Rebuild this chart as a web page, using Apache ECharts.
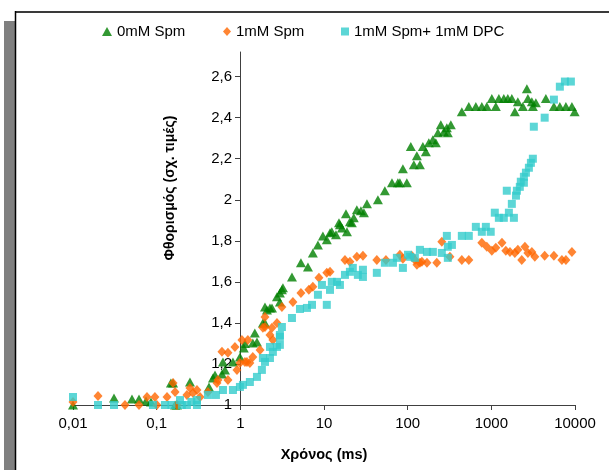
<!DOCTYPE html>
<html>
<head>
<meta charset="utf-8">
<script src="https://cdn.jsdelivr.net/npm/echarts@6/dist/echarts.min.js"></script>
<style>
html,body{margin:0;padding:0;background:#fff;}
#c{width:609px;height:470px;}
</style>
</head>
<body>
<div id="c"></div>
<script>
// ---- data (time in ms, relative fluorescence) ----
var seriesNames = ['0mM Spm', '1mM Spm', '1mM Spm+ 1mM DPC'];
var xTicks = [0.01, 0.1, 1, 10, 100, 1000, 10000];
var yTicks = [1, 1.2, 1.4, 1.6, 1.8, 2, 2.2, 2.4, 2.6];

var spm0 = [
  [0.01,1.0],[0.0309,1.034],[0.0507,1.029],[0.0615,1.029],[0.0746,1.02],[0.0855,1.015],
  [0.148,1.107],[0.166,1.0],[0.157,1.107],[0.25,1.112],[0.175,1.0],[0.422,1.088],
  [0.471,1.132],[0.498,1.146],[0.603,1.151],[0.62,1.21],[0.655,1.171],[0.816,1.21],
  [0.989,1.234],[1.10,1.278],[1.135,1.30],[1.41,1.302],[1.49,1.351],[1.58,1.307],
  [1.86,1.40],[1.97,1.478],[1.97,1.40],[2.08,1.463],[2.26,1.473],[2.39,1.473],
  [2.74,1.527],[2.97,1.502],[2.97,1.546],[3.14,1.561],[3.23,1.571],
  [4.14,1.624],[5.30,1.693],[6.43,1.673],[7.36,1.741],[8.46,1.78],[9.70,1.824],
  [10.8,1.805],[11.8,1.839],[12.4,1.844],[13.9,1.829],[15.1,1.888],[15.5,1.878],
  [16.4,1.863],[18.3,1.932],[18.8,1.844],[20.4,1.893],[21.5,1.888],[22.7,1.912],
  [24.7,1.951],[27.6,1.946],[30.0,1.937],[32.6,1.98],[44.1,2.0],[53.4,2.044],
  [64.9,2.083],[76.4,2.083],[80.7,2.083],[87.7,2.151],[97.8,2.083],[109,2.259],
  [118.5,2.171],[128.8,2.215],[140,2.171],[152,2.259],[165,2.234],[179,2.278],
  [200,2.293],[217,2.278],[230,2.327],[249,2.366],[271,2.332],[294,2.351],[302,2.327],
  [328,2.366],[444,2.429],[538,2.454],[653,2.454],[770,2.454],[883,2.454],[1014,2.493],
  [1132,2.454],[1230,2.493],[1410,2.493],[1574,2.493],[1758,2.493],[1910,2.429],
  [2075,2.478],[2382,2.454],[2660,2.541],[2735,2.493],[3050,2.478],[3135,2.454],
  [3405,2.473],[4485,2.493],[5595,2.454],[6590,2.454],[7785,2.454],[9185,2.454],[9900,2.429]
];

var spm1 = [
  [0.01,1.015],[0.0199,1.044],[0.0418,1.0],[0.0615,1.0],[0.0766,1.039],[0.0953,1.039],
  [0.1006,1.0],[0.133,1.039],[0.157,1.107],[0.166,1.063],[0.175,1.0],[0.23,1.049],
  [0.25,1.083],[0.272,1.059],[0.303,1.073],[0.33,1.039],[0.41,1.063],[0.526,1.107],
  [0.54,1.122],[0.603,1.259],[0.711,1.122],[0.711,1.254],[0.862,1.283],[0.911,1.171],
  [0.989,1.205],[1.045,1.317],[1.135,1.21],[1.20,1.21],[1.23,1.317],[1.30,1.205],
  [1.41,1.234],[1.72,1.268],[1.86,1.376],[1.97,1.38],[1.97,1.429],[2.26,1.341],
  [2.39,1.376],[2.45,1.317],[2.74,1.40],[3.14,1.478],[4.25,1.502],[5.30,1.546],
  [6.59,1.561],[7.36,1.576],[8.70,1.62],[10.8,1.644],[11.8,1.649],[17.8,1.707],
  [20.4,1.698],[24.7,1.722],[29.2,1.727],[42.8,1.707],[55.0,1.707],[80.7,1.732],
  [87.7,1.712],[112,1.727],[122,1.707],[129,1.683],[140,1.693],[148,1.698],[170,1.693],
  [223,1.693],[256,1.795],[320,1.722],[444,1.707],[538,1.707],[770,1.79],[883,1.771],
  [1014,1.751],[1132,1.766],[1340,1.79],[1490,1.751],[1670,1.746],[1910,1.741],
  [2075,1.756],[2310,1.707],[2520,1.771],[2735,1.741],[3050,1.746],[3310,1.722],
  [4340,1.727],[5595,1.727],[6970,1.707],[7785,1.707],[9185,1.746]
];

var spmDpc = [
  [0.01,1.039],[0.0199,1.0],[0.0309,1.0],[0.0903,1.0],[0.1256,1.0],[0.15,1.0],
  [0.19,1.024],[0.2,1.0],[0.23,1.0],[0.26,1.015],[0.303,1.024],[0.303,1.0],
  [0.41,1.049],[0.511,1.049],[0.62,1.073],[0.816,1.073],[0.989,1.088],[1.074,1.098],
  [1.30,1.112],[1.58,1.137],[1.81,1.171],[1.86,1.229],[1.97,1.21],[2.26,1.229],
  [2.26,1.283],[2.45,1.259],[2.74,1.283],[2.97,1.293],[2.97,1.332],[2.97,1.341],
  [3.14,1.38],[4.14,1.424],[5.16,1.468],[6.25,1.473],[7.19,1.488],[8.46,1.537],
  [9.45,1.585],[10.8,1.488],[11.8,1.561],[12.4,1.60],[14.3,1.60],[15.5,1.585],
  [17.8,1.634],[20.4,1.649],[22.1,1.668],[25.4,1.634],[29.2,1.659],[29.2,1.624],
  [42.8,1.644],[53.4,1.693],[66.7,1.693],[74.3,1.717],[87.7,1.668],[101,1.732],
  [107,1.722],[122,1.717],[140,1.756],[170,1.746],[200,1.746],[256,1.741],
  [302,1.771],[302,1.717],[338,1.78],[294,1.824],[444,1.824],[538,1.824],[653,1.868],
  [770,1.844],[860,1.868],[983,1.844],[1100,1.937],[1230,1.912],[1410,1.912],
  [1530,2.044],[1620,1.937],[1758,1.98],[1860,1.912],[1970,2.02],[2020,2.044],
  [2190,2.063],[2250,2.088],[2450,2.083],[2450,2.112],[2590,2.132],[2810,2.156],
  [2970,2.18],[3135,2.20],[3220,2.356],[4340,2.40],[5595,2.488],[6590,2.551],
  [7570,2.576],[8930,2.576]
];

var colors = ['#008000', '#FF6600', '#33CCCC'];
var FONT = '"Liberation Sans", Arial, sans-serif';

function comma(v) {
  return String(Math.round(v * 1000) / 1000).replace('.', ',');
}

var chart = echarts.init(document.getElementById('c'), null, {renderer: 'canvas'});
chart.setOption({
  animation: false,
  backgroundColor: '#ffffff',
  textStyle: {fontFamily: FONT},
  grid: {left: 73, right: 34, top: 52, bottom: 65, containLabel: false},
  legend: [
    {left: 102, top: 24, itemWidth: 10, itemHeight: 9, padding: 0,
     textStyle: {fontSize: 15, color: '#000', fontFamily: FONT},
     data: [{name: seriesNames[0], icon: 'triangle'}]},
    {left: 223, top: 24, itemWidth: 8, itemHeight: 9, padding: 0,
     textStyle: {fontSize: 15, color: '#000', fontFamily: FONT},
     data: [{name: seriesNames[1], icon: 'diamond'}]},
    {left: 341, top: 24, itemWidth: 8, itemHeight: 8, padding: 0,
     textStyle: {fontSize: 15, color: '#000', fontFamily: FONT},
     data: [{name: seriesNames[2], icon: 'rect'}]}
  ],
  xAxis: {
    type: 'log', logBase: 10, min: 0.01, max: 10000,
    name: 'Χρόνος (ms)', nameLocation: 'middle', nameGap: 42,
    nameTextStyle: {fontSize: 14.5, fontWeight: 'bold', color: '#000', fontFamily: FONT},
    axisLine: {onZero: false, lineStyle: {color: '#404040', width: 1}},
    axisTick: {show: true, length: 5, customValues: xTicks, lineStyle: {color: '#404040'}},
    minorTick: {show: false},
    axisLabel: {customValues: xTicks, fontSize: 15, color: '#000', margin: 11, fontFamily: FONT,
      formatter: function (v) { return comma(v); }},
    splitLine: {show: false}
  },
  yAxis: {
    type: 'value', min: 1, max: 2.72, offset: -167,
    axisLine: {onZero: false, lineStyle: {color: '#404040', width: 1}},
    axisTick: {show: true, length: 5, customValues: yTicks, lineStyle: {color: '#404040'}},
    axisLabel: {customValues: yTicks, fontSize: 15, color: '#000', margin: 8, fontFamily: FONT,
      formatter: function (v) { return comma(v); }},
    splitLine: {show: false}
  },
  graphic: [
    {type: 'rect', shape: {x: 4, y: 21, width: 11, height: 449}, style: {fill: '#808080'}, silent: true},
    {type: 'line', shape: {x1: 15, y1: 12, x2: 609, y2: 12}, style: {stroke: '#3a3a3a', lineWidth: 2}, silent: true},
    {type: 'line', shape: {x1: 15.5, y1: 11, x2: 15.5, y2: 470}, style: {stroke: '#000', lineWidth: 1.5}, silent: true},
    {type: 'text', x: 170, y: 188, rotation: Math.PI / 2,
     style: {text: 'Φθορισμός (σχ. τιμές)', fontSize: 14, fontWeight: 'bold', fill: '#000',
             fontFamily: FONT, align: 'center', verticalAlign: 'middle'}, silent: true}
  ],
  series: [
    {name: seriesNames[0], type: 'scatter', data: spm0, symbol: 'triangle', symbolSize: [10, 9],
     itemStyle: {color: colors[0]}},
    {name: seriesNames[1], type: 'scatter', data: spm1, symbol: 'diamond', symbolSize: [9, 10],
     itemStyle: {color: colors[1]}},
    {name: seriesNames[2], type: 'scatter', data: spmDpc, symbol: 'rect', symbolSize: 8,
     itemStyle: {color: colors[2]}}
  ]
});
</script>
</body>
</html>
